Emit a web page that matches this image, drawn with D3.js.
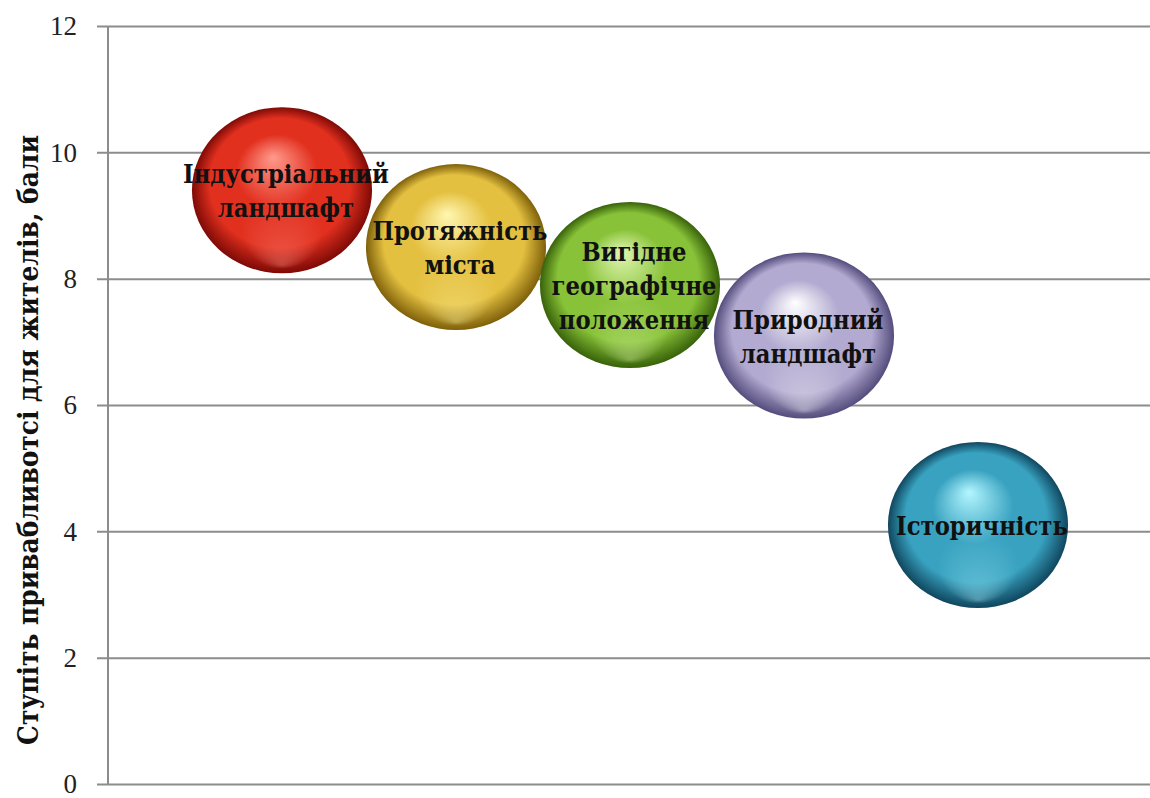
<!DOCTYPE html>
<html lang="uk">
<head>
<meta charset="utf-8">
<script src="https://cdn.jsdelivr.net/npm/d3@7"></script>
<style>
  html, body { margin: 0; padding: 0; background: #fff; }
  svg { display: block; }
</style>
</head>
<body>
<svg id="chart" width="1150" height="798"></svg>
<script>
// Factors and their attractiveness scores (bubble chart, equal-size bubbles)
const categories = [
  ["Індустріальний", "ландшафт"],
  ["Протяжність", "міста"],
  ["Вигідне", "географічне", "положення"],
  ["Природний", "ландшафт"],
  ["Історичність"]
];
const xValues = [1, 2, 3, 4, 5];
const yValues = [9.4, 8.5, 7.9, 7.1, 4.1];
const sizes = [1, 1, 1, 1, 1];
const yTicks = [0, 2, 4, 6, 8, 10, 12];
const yTitle = "Ступіть привабливотсі для жителів, бали";

// Sphere shading per bubble: highlight, body, rim
const palette = [
  { hi: "#ff9a8c", mid: "#e2301f", lo: "#7e0a06" },
  { hi: "#fff6b0", mid: "#e4c040", lo: "#7e600a" },
  { hi: "#e2f7b4", mid: "#88c238", lo: "#38620a" },
  { hi: "#ffffff", mid: "#b2aad0", lo: "#544c7c" },
  { hi: "#b4f6ff", mid: "#38a2c0", lo: "#10465e" }
];

const serif = "'Liberation Serif', 'Times New Roman', Times, serif";
const cyrSerif = "'DejaVu Serif Condensed', 'DejaVu Serif', serif";

const svg = d3.select("#chart");
const margin = { left: 108, right: -2, top: 26, bottom: 14 };
const W = 1150, H = 798;

const x = d3.scaleLinear().domain([0, 6]).range([margin.left, W - margin.right]);
const y = d3.scaleLinear().domain([0, 12]).range([H - margin.bottom, margin.top]);
const r = d3.scaleSqrt().domain([0, 1]).range([0, 83]);
const stretch = 1.085; // bubbles are slightly wider than tall

// gradients
const defs = svg.append("defs");
palette.forEach((p, i) => {
  const g = defs.append("radialGradient")
    .attr("id", "ball" + i)
    .attr("cx", 0.5).attr("cy", 0.5).attr("r", 0.5)
    .attr("fx", 0.45).attr("fy", 0.3);
  g.append("stop").attr("offset", "0%").attr("stop-color", p.hi);
  g.append("stop").attr("offset", "45%").attr("stop-color", p.mid);
  g.append("stop").attr("offset", "78%").attr("stop-color", p.mid);
  g.append("stop").attr("offset", "100%").attr("stop-color", p.lo);

  // soft light bounce along the lower edge
  const b = defs.append("radialGradient")
    .attr("id", "bounce" + i)
    .attr("cx", 0.5).attr("cy", 0.5).attr("r", 0.5)
    .attr("fx", 0.5).attr("fy", 0.95);
  b.append("stop").attr("offset", "0%").attr("stop-color", p.hi).attr("stop-opacity", 0.35);
  b.append("stop").attr("offset", "45%").attr("stop-color", p.hi).attr("stop-opacity", 0);
  b.append("stop").attr("offset", "100%").attr("stop-color", p.hi).attr("stop-opacity", 0);
});

// horizontal gridlines with tick stubs
const yAxis = d3.axisLeft(y)
  .tickValues(yTicks)
  .tickSize(-(W - margin.left))
  .tickPadding(0)
  .tickFormat(d3.format("d"));

const gy = svg.append("g")
  .attr("transform", `translate(${margin.left},0)`)
  .call(yAxis);
gy.select(".domain").remove();
gy.selectAll(".tick line")
  .attr("x1", -11)
  .attr("stroke", "#8c8c8c")
  .attr("stroke-width", 2);
gy.selectAll(".tick text")
  .attr("x", -31)
  .attr("dy", "0.33em")
  .attr("fill", "#222")
  .style("font-family", serif)
  .style("font-size", "27px");

// vertical axis line
svg.append("line")
  .attr("x1", margin.left).attr("x2", margin.left)
  .attr("y1", y(12)).attr("y2", y(0))
  .attr("stroke", "#8c8c8c")
  .attr("stroke-width", 2);

// bold serif with Cyrillic coverage
function heavy(sel) {
  return sel
    .style("font-family", cyrSerif)
    .style("font-weight", "bold")
    .attr("fill", "#111");
}

// axis title, sized to run from y≈135 to y≈745
const title = svg.append("text")
  .attr("transform", `translate(38,440) rotate(-90)`)
  .attr("text-anchor", "middle")
  .style("font-size", "30px")
  .call(heavy)
  .text(yTitle);
const tl = title.node().getComputedTextLength();
title.style("font-size", (30 * 610 / tl).toFixed(2) + "px");

const data = categories.map((c, i) => ({
  lines: c, x: xValues[i], y: yValues[i], s: sizes[i], i
}));

// bubbles
const bubbles = svg.append("g").selectAll("g")
  .data(data).join("g");

bubbles.append("ellipse")
  .attr("cx", d => x(d.x))
  .attr("cy", d => y(d.y))
  .attr("rx", d => r(d.s) * stretch)
  .attr("ry", d => r(d.s))
  .attr("fill", d => `url(#ball${d.i})`);

bubbles.append("ellipse")
  .attr("cx", d => x(d.x))
  .attr("cy", d => y(d.y))
  .attr("rx", d => r(d.s) * stretch)
  .attr("ry", d => r(d.s))
  .attr("fill", d => `url(#bounce${d.i})`);

// labels on top
const lineH = 34;
const labels = svg.append("g").selectAll("text")
  .data(data).join("text")
  .attr("x", d => x(d.x) + 4)
  .attr("y", d => y(d.y) - (d.lines.length - 1) * lineH / 2 + 10)
  .attr("text-anchor", "middle")
  .style("font-size", "26px")
  .call(heavy)
  .each(function (d) {
    d3.select(this).selectAll("tspan")
      .data(d.lines).join("tspan")
      .attr("x", x(d.x) + 4)
      .attr("dy", (t, k) => k === 0 ? 0 : lineH)
      .text(t => t);
  });

// fit label size so the longest line spans about 206px
const longest = labels.filter(d => d.i === 0).select("tspan").node().getComputedTextLength();
labels.style("font-size", Math.min(28, 26 * 206 / longest).toFixed(2) + "px");
</script>
</body>
</html>
